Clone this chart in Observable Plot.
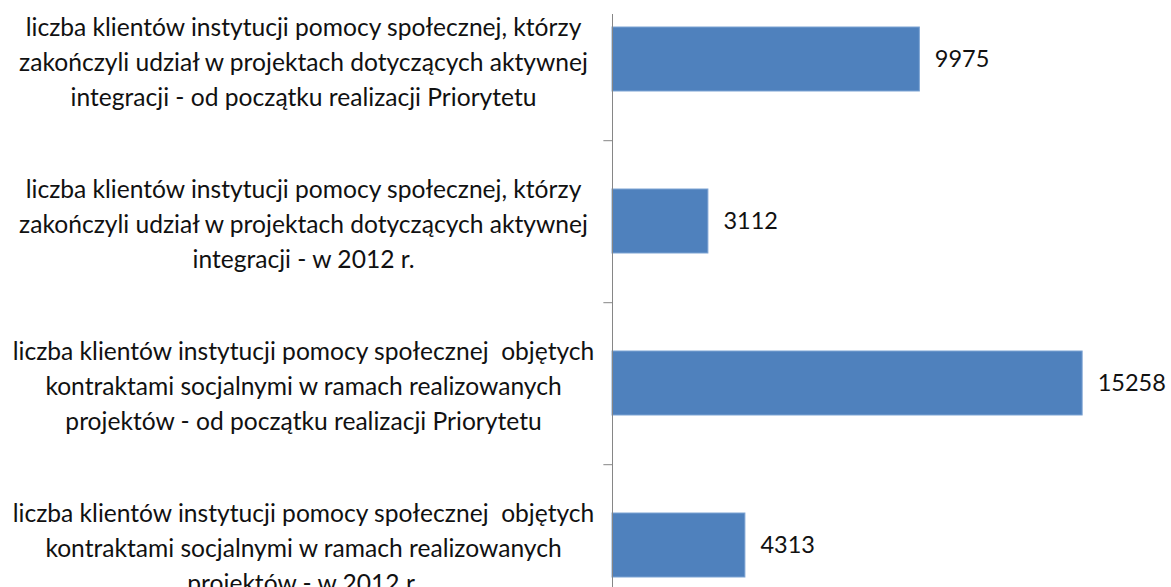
<!DOCTYPE html>
<html>
<head>
<meta charset="utf-8">
<script src="https://cdn.jsdelivr.net/npm/d3@7"></script>
<script src="https://cdn.jsdelivr.net/npm/@observablehq/plot@0.6"></script>
<style>
  html, body { margin: 0; padding: 0; background: #fff; }
  #chart svg { display: block; }
</style>
</head>
<body>
<div id="chart"></div>
<script>
const categories = [
  "liczba klientów instytucji pomocy społecznej, którzy\nzakończyli udział w projektach dotyczących aktywnej\nintegracji - od początku realizacji Priorytetu",
  "liczba klientów instytucji pomocy społecznej, którzy\nzakończyli udział w projektach dotyczących aktywnej\nintegracji - w 2012 r.",
  "liczba klientów instytucji pomocy społecznej  objętych\nkontraktami socjalnymi w ramach realizowanych\nprojektów - od początku realizacji Priorytetu",
  "liczba klientów instytucji pomocy społecznej  objętych\nkontraktami socjalnymi w ramach realizowanych\nprojektów - w 2012 r."
];
const values = [9975, 3112, 15258, 4313];

const data = categories.map((c, i) => ({category: c, value: values[i]}));
const font = "Lato, 'Open Sans', sans-serif";

const chart = Plot.plot({
  width: 1171,
  height: 587,
  marginLeft: 612,
  marginRight: 66,
  marginTop: 14,
  marginBottom: 0,
  style: {fontFamily: font, background: "#fff"},
  x: {domain: [0, 16000], axis: null},
  y: {type: "band", domain: categories, range: [-23.2, 626.2], paddingInner: 0.606, paddingOuter: 0.303, axis: null},
  marks: [
    Plot.barX(data, {x: "value", y: "category", fill: "#4F81BD", stroke: "#7da3d3", strokeWidth: 1}),
    Plot.ruleX([0], {stroke: "#868686", strokeWidth: 1}),
    Plot.ruleY(categories.slice(0, 3), {y: d => d, x1: -280, x2: 0, dy: 81.2, stroke: "#868686", strokeWidth: 1}),
    Plot.text(data, {x: "value", y: "category", text: d => String(d.value), textAnchor: "start", dx: 15, fontSize: 23.5, fill: "#111"}),
    Plot.text(data, {y: "category", text: "category", frameAnchor: "left", dx: -309, textAnchor: "middle", lineHeight: 1.42, fontSize: 24.6, fill: "#111"})
  ]
});
document.getElementById("chart").appendChild(chart);
</script>
</body>
</html>
